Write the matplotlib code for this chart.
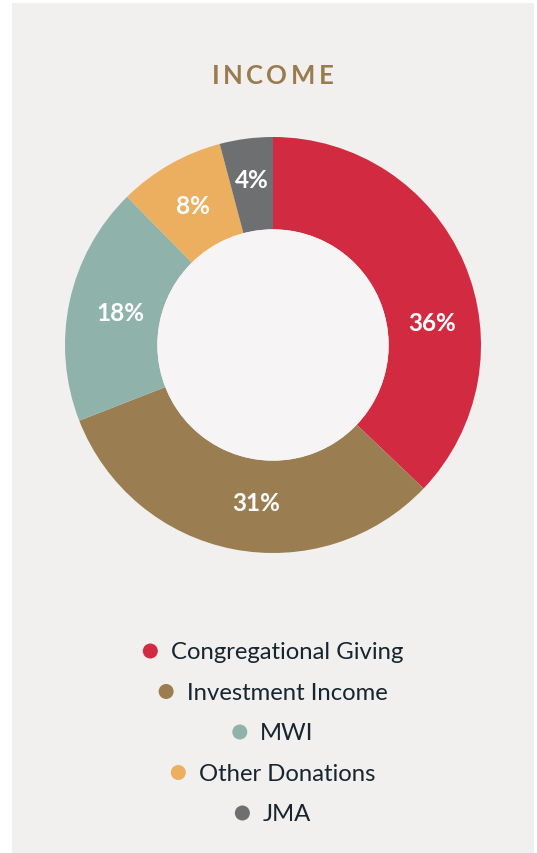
import matplotlib
matplotlib.use('Agg')
import matplotlib.pyplot as plt
from matplotlib.patches import Rectangle, Circle
import numpy as np

# ---- data ----
categories = ['Congregational Giving', 'Investment Income', 'MWI', 'Other Donations', 'JMA']
values = [36, 31, 18, 8, 4]
pct_labels = ['36%', '31%', '18%', '8%', '4%']
colors = ['#d22a40', '#9a7e51', '#8fb2ab', '#ecaf5f', '#6e6f71']
title = 'INCOME'
center_lines = ['£242,031', '(€211,089)']

# ---- style ----
plt.rcParams['font.family'] = ['Lato', 'DejaVu Sans']
W, H = 537, 854
BG = '#f2f0ee'
HOLE = '#f7f4f5'
DARK = '#16252f'
TITLE_C = '#9a7b4f'
label_angle_shift = [-15, 5, 0, 0, 0]
label_radius = [0.772, 0.76, 0.752, 0.774, 0.80]

fig = plt.figure(figsize=(W / 100, H / 100), dpi=100)
fig.patch.set_facecolor('white')

bg = fig.add_axes([0, 0, 1, 1])
bg.set_xlim(0, W)
bg.set_ylim(H, 0)
bg.axis('off')
bg.add_patch(Rectangle((12, 4), 522, 850, color=BG, lw=0))

# ---- donut ----
cx, cy, R = 273, 346, 208
ax = fig.add_axes([(cx - R) / W, (H - cy - R) / H, 2 * R / W, 2 * R / H])
inner = 0.556
wedges, _ = ax.pie(values, colors=colors, startangle=90, counterclock=False,
                   radius=1, wedgeprops=dict(width=1 - inner, linewidth=0))
ax.add_patch(Circle((0, 0), inner, color=HOLE, lw=0))
ax.set_xlim(-1, 1)
ax.set_ylim(-1, 1)
ax.set_aspect('equal')
ax.axis('off')

for w, lab, s, r in zip(wedges, pct_labels, label_angle_shift, label_radius):
    mid = np.deg2rad((w.theta1 + w.theta2) / 2 + s)
    ax.text(r * np.cos(mid), r * np.sin(mid), lab, ha='center', va='center',
            fontsize=17.5, fontweight='bold', color='white')

# centre text
bg.text(cx, 336, center_lines[0], ha='center', va='baseline', fontsize=17.5, color=DARK)
bg.text(cx, 364, center_lines[1], ha='center', va='baseline', fontsize=17.5, color=DARK)

renderer = fig.canvas.get_renderer()

# ---- title with letter spacing ----
chars = []
widths = []
for ch in title:
    t = bg.text(0, 0, ch, fontsize=18.5, fontweight='bold', color=TITLE_C,
                ha='left', va='baseline')
    chars.append(t)
    widths.append(t.get_window_extent(renderer).width)
target = 122.0
track = (target - sum(widths)) / (len(title) - 1)
x = 211.5
for t, wdt in zip(chars, widths):
    t.set_position((x, 84.5))
    x += wdt + track

# ---- legend ----
base0, step = 659.5, 40.5
for i, (cat, col) in enumerate(zip(categories, colors)):
    yb = base0 + step * i
    t = bg.text(0, yb, cat, fontsize=17.2, color=DARK, ha='left', va='baseline')
    tw = t.get_window_extent(renderer).width
    total = 15 + 13 + tw
    x0 = cx - total / 2
    bg.add_patch(Circle((x0 + 7.5, yb - 7.5), 7.5, color=col, lw=0))
    t.set_position((x0 + 28, yb))

fig.savefig('out.png', dpi=100)
